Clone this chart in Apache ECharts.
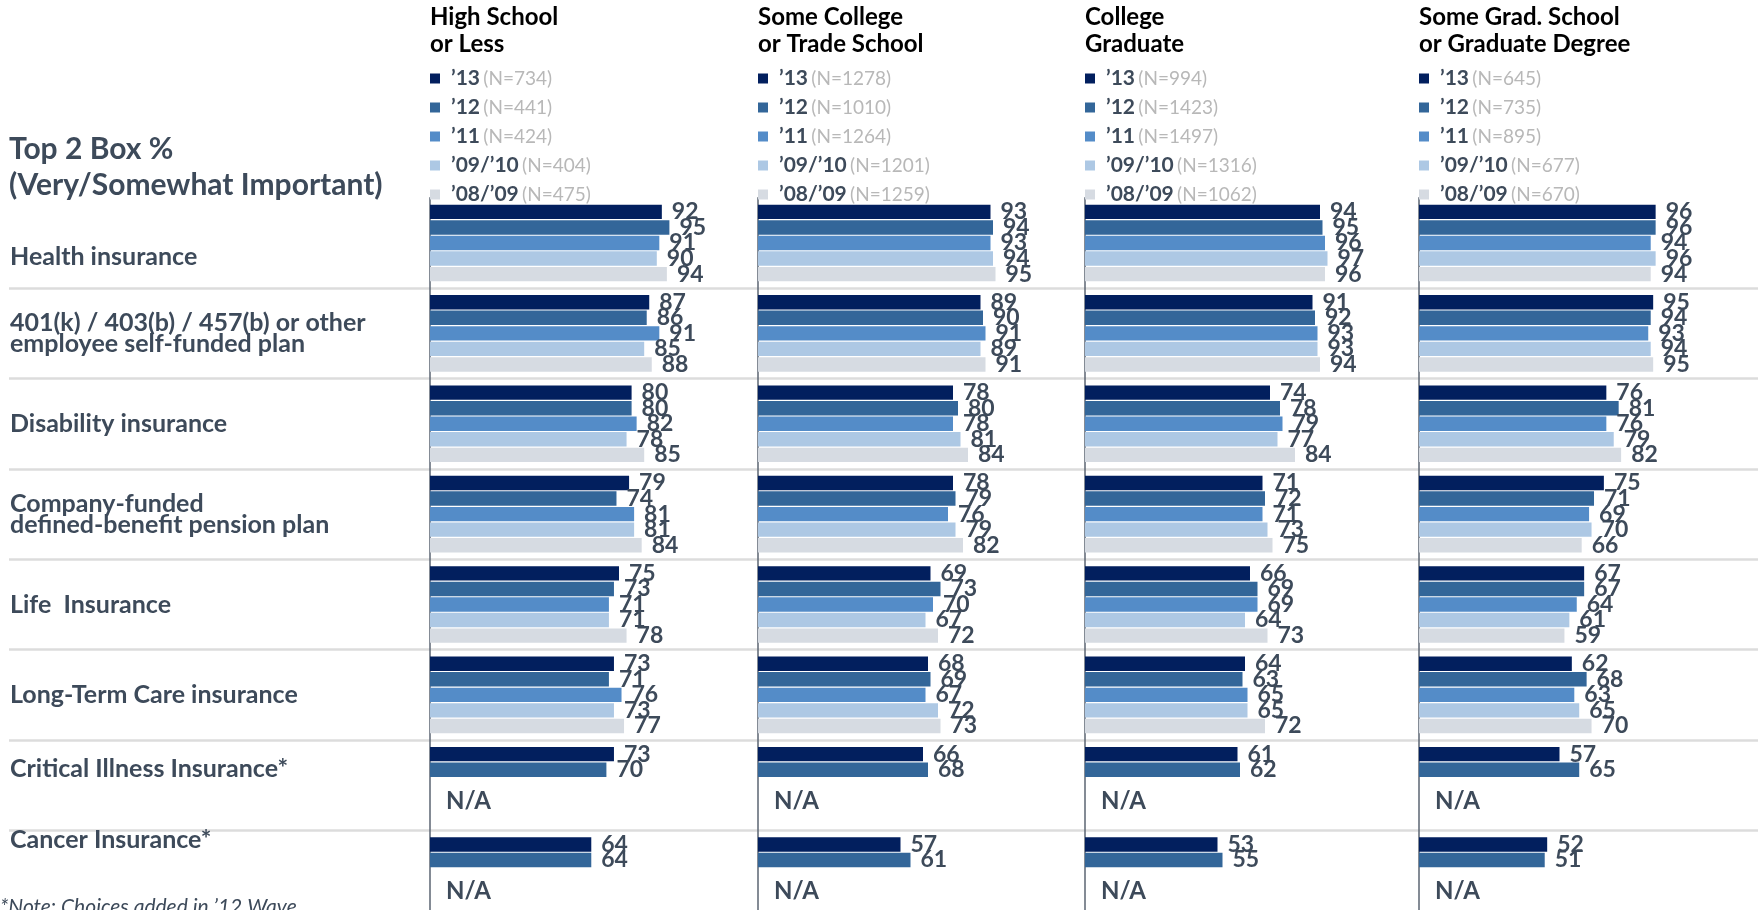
<!DOCTYPE html>
<html>
<head>
<meta charset="utf-8">
<script src="https://cdn.jsdelivr.net/npm/echarts@6/dist/echarts.min.js"></script>
<style>
  html, body { margin: 0; padding: 0; background: #ffffff; }
  #chart { width: 1758px; height: 910px; }
</style>
</head>
<body>
<div id="chart"></div>
<script>
// ---------------- DATA ----------------
const categories = [
  'Health insurance',
  '401(k) / 403(b) / 457(b) or other\nemployee self-funded plan',
  'Disability insurance',
  'Company-funded\ndefined-benefit pension plan',
  'Life  Insurance',
  'Long-Term Care insurance',
  'Critical Illness Insurance*',
  'Cancer Insurance*'
];
const years = ['\u201913', '\u201912', '\u201911', '\u201909/\u201910', '\u201908/\u201909'];
const panelTitles = [
  'High School\nor Less',
  'Some College\nor Trade School',
  'College\nGraduate',
  'Some Grad. School\nor Graduate Degree'
];
const sampleSizes = [
  [734, 441, 424, 404, 475],
  [1278, 1010, 1264, 1201, 1259],
  [994, 1423, 1497, 1316, 1062],
  [645, 735, 895, 677, 670]
];

// High School or Less
const hs13   = [92, 87, 80, 79, 75, 73, 73, 64];
const hs12   = [95, 86, 80, 74, 73, 71, 70, 64];
const hs11   = [91, 91, 82, 81, 71, 76, null, null];
const hs0910 = [90, 85, 78, 81, 71, 73, null, null];
const hs0809 = [94, 88, 85, 84, 78, 77, null, null];
// Some College or Trade School
const sc13   = [93, 89, 78, 78, 69, 68, 66, 57];
const sc12   = [94, 90, 80, 79, 73, 69, 68, 61];
const sc11   = [93, 91, 78, 76, 70, 67, null, null];
const sc0910 = [94, 89, 81, 79, 67, 72, null, null];
const sc0809 = [95, 91, 84, 82, 72, 73, null, null];
// College Graduate
const cg13   = [94, 91, 74, 71, 66, 64, 61, 53];
const cg12   = [95, 92, 78, 72, 69, 63, 62, 55];
const cg11   = [96, 93, 79, 71, 69, 65, null, null];
const cg0910 = [97, 93, 77, 73, 64, 65, null, null];
const cg0809 = [96, 94, 84, 75, 73, 72, null, null];
// Some Grad. School or Graduate Degree
const gs13   = [96, 95, 76, 75, 67, 62, 57, 52];
const gs12   = [96, 94, 81, 71, 67, 68, 65, 51];
const gs11   = [94, 93, 76, 69, 64, 63, null, null];
const gs0910 = [96, 94, 79, 70, 61, 65, null, null];
const gs0809 = [94, 95, 82, 66, 59, 70, null, null];

const panelValues = [
  [hs13, hs12, hs11, hs0910, hs0809],
  [sc13, sc12, sc11, sc0910, sc0809],
  [cg13, cg12, cg11, cg0910, cg0809],
  [gs13, gs12, gs11, gs0910, gs0809]
];
const naCategories = ['Critical Illness Insurance*', 'Cancer Insurance*'];
const naText = 'N/A';
const leftTitle = 'Top 2 Box %\n(Very/Somewhat Important)';
const footnote = '*Note: Choices added in \u201912 Wave';

// ---------------- STYLE ----------------
const FONT = 'Lato';
const slate = '#3d4a5a';
const yearColors = ['#021f5e', '#336699', '#548cc8', '#adc8e4', '#d6dbe2'];
const panelLeft = [430, 758, 1085, 1419];
const panelWidth = [252, 250, 250, 246.5];
const gridTop = 197.8;
const gridHeight = 723;
const naSlot = 3; // N/A label sits in the 4th bar slot
const catLabelShift = { 0: 14, 6: -16, 7: -36 };

// ---------------- BUILD ----------------
const chart = echarts.init(document.getElementById('chart'), null, { renderer: 'canvas' });

const grids = [{ left: 9, right: 0, top: gridTop, height: gridHeight, outerBoundsMode: 'none', containLabel: false }];
const xAxes = [{ type: 'value', gridIndex: 0, min: 0, max: 1, show: false }];
const richCat = {};
categories.forEach((c, i) => {
  const s = catLabelShift[i] || 0;
  richCat['c' + i] = {
    fontFamily: FONT, fontWeight: 'bold', fontSize: 25, color: slate, lineHeight: 21,
    padding: s > 0 ? [2 * s, 0, 0, 0] : [0, 0, -2 * s, 0]
  };
});
const yAxes = [{
  type: 'category', gridIndex: 0, data: categories, inverse: true,
  axisLine: { show: false }, axisTick: { show: false },
  axisLabel: {
    inside: true, margin: 1, interval: 0, align: 'left',
    formatter: (v, i) => v.split('\n').map(l => '{c' + i + '|' + l + '}').join('\n'),
    rich: richCat
  },
  splitLine: { show: true, showMinLine: false, showMaxLine: false, lineStyle: { color: '#dcdcdc', width: 2.5 } }
}];

const series = [];
const legends = [];
const titles = [
  { text: leftTitle, left: 9, top: 131, padding: 0,
    textStyle: { fontFamily: FONT, fontWeight: 'bold', fontSize: 30, color: slate, lineHeight: 36 } },
  { text: footnote, left: 0, top: 897, padding: 0,
    textStyle: { fontFamily: FONT, fontStyle: 'italic', fontWeight: 'normal', fontSize: 21, color: slate } }
];

panelValues.forEach((vals, p) => {
  grids.push({ left: panelLeft[p], width: panelWidth[p], top: gridTop, height: gridHeight,
    outerBoundsMode: 'none', containLabel: false });
  xAxes.push({ type: 'value', gridIndex: p + 1, min: 0, max: 100, show: false });
  yAxes.push({
    type: 'category', gridIndex: p + 1, data: categories, inverse: true,
    axisLine: { show: true, lineStyle: { color: '#5b6572', width: 1.5 } },
    axisTick: { show: false }, axisLabel: { show: false }, splitLine: { show: false }
  });
  const names = [];
  vals.forEach((arr, s) => {
    const name = years[s] + ' (N=' + sampleSizes[p][s] + ')';
    names.push(name);
    const data = arr.map((v, ci) => {
      if (v === null && s === naSlot && naCategories.includes(categories[ci])) {
        return { value: 0, itemStyle: { color: 'rgba(0,0,0,0)' },
          label: { show: true, formatter: naText, distance: 16, fontSize: 24 } };
      }
      return v;
    });
    series.push({
      type: 'bar', name, xAxisIndex: p + 1, yAxisIndex: p + 1, data,
      barWidth: 14.4, barGap: '8%',
      itemStyle: { color: yearColors[s] },
      label: {
        show: true, position: 'right', distance: 10,
        fontFamily: FONT, fontWeight: 'bold', fontSize: 23, color: slate
      },
      emphasis: { disabled: true },
      animation: false
    });
  });
  legends.push({
    data: names, left: panelLeft[p], top: 68, orient: 'vertical', padding: 0,
    itemWidth: 10, itemHeight: 10, itemGap: 8, icon: 'rect', selectedMode: false,
    formatter: n => {
      const k = n.indexOf(' (');
      return '{y|' + n.slice(0, k) + '} {n|' + n.slice(k + 1) + '}';
    },
    textStyle: {
      lineHeight: 20,
      rich: {
        y: { fontFamily: FONT, fontWeight: 'bold', fontSize: 21, color: slate, padding: [0, 0, 0, 6] },
        n: { fontFamily: FONT, fontWeight: 'normal', fontSize: 19, color: '#b8b8b8' }
      }
    }
  });
  titles.push({
    text: panelTitles[p], left: panelLeft[p], top: 4, padding: 0,
    textStyle: { fontFamily: FONT, fontWeight: 'bold', fontSize: 24, color: '#000000', lineHeight: 27 }
  });
});

chart.setOption({
  animation: false,
  backgroundColor: '#ffffff',
  title: titles,
  legend: legends,
  grid: grids,
  xAxis: xAxes,
  yAxis: yAxes,
  series
});
</script>
</body>
</html>
